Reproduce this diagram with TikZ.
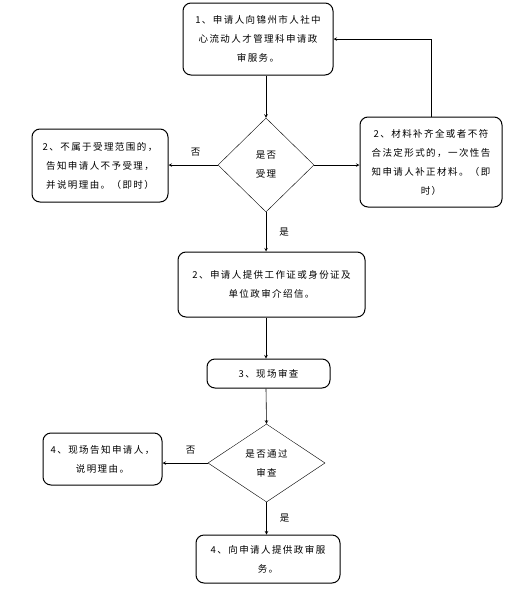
\documentclass[tikz,border=0pt]{standalone}
\usepackage{fontspec}
\setmainfont[LetterSpace=15]{Noto Sans CJK SC}
\usetikzlibrary{shapes.geometric, arrows, positioning, calc}

\tikzset{
  stepbox/.style={draw, line width=1pt, rounded corners=8pt, align=center, inner sep=2pt},
  checkbox/.style={draw, diamond, align=center, inner sep=0pt},
  flow/.style={->, >=stealth, semithick},
  yesno/.style={inner sep=1pt}
}

\begin{document}
\begin{tikzpicture}[x=1pt, y=-1pt, font=\fontsize{9.5}{19}\selectfont]
\useasboundingbox (0,0) rectangle (521,600);
% main column
\node[stepbox, minimum width=150pt, minimum height=72pt] (apply) at (258,39) {1、申请人向锦州市人社中\\心流动人才管理科申请政\\审服务。};
\node[checkbox, minimum width=96pt, minimum height=94pt] (accept) at (266,165) {是否\\受理};
\node[stepbox, minimum width=136pt, minimum height=73pt] (reject) at (100,165.5) {2、不属于受理范围的，\\告知申请人不予受理，\\并说明理由。（即时）};
\node[stepbox, minimum width=142pt, minimum height=90pt] (supply) at (431,162) {2、材料补齐全或者不符\\合法定形式的，一次性告\\知申请人补正材料。（即\\时）};
\node[stepbox, minimum width=187pt, minimum height=65pt] (papers) at (271.5,284.5) {2、申请人提供工作证或身份证及\\单位政审介绍信。};
\node[stepbox, minimum width=123pt, minimum height=29pt] (review) at (268.5,373.5) {3、现场审查};
\node[checkbox, minimum width=117pt, minimum height=78pt] (pass) at (266.5,463) {是否通过\\审查};
\node[stepbox, minimum width=119pt, minimum height=52pt] (tell) at (102.5,459) {4、现场告知申请人，\\说明理由。};
\node[stepbox, minimum width=144pt, minimum height=48pt] (serve) at (268,559) {4、向申请人提供政审服\\务。};

% connectors
\draw[flow] (accept.north |- apply.south) -- (accept.north);
\draw[flow] (accept.west) -- node[yesno, above=7pt, pos=0.45] (no1) {否} (reject.east |- accept.west);
\draw[flow] (accept.east) -- (supply.west |- accept.east);
\draw[flow] (supply.north) |- (apply.east);
\draw[flow] (accept.south) -- node[yesno, right=12pt] (yes1) {是} (accept.south |- papers.north);
\draw[flow] (accept.south |- papers.south) -- (accept.south |- review.north);
\draw[flow] (accept.south |- review.south) -- (pass.north);
\draw[flow] (pass.west) -- node[yesno, above=7pt, pos=0.38] (no2) {否} (tell.east |- pass.west);
\draw[flow] (pass.south) -- node[yesno, right=12pt] (yes2) {是} (pass.south |- serve.north);
\end{tikzpicture}
\end{document}
